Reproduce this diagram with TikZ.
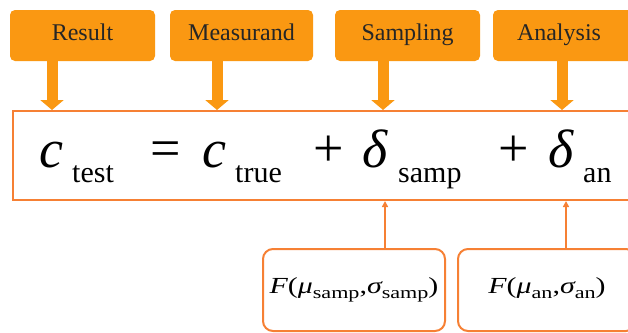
\documentclass[tikz,border=0pt]{standalone}
\usepackage{fontspec}
\setmainfont{Liberation Serif}
\usetikzlibrary{arrows.meta}
\definecolor{tagfill}{RGB}{250,152,18}
\definecolor{frameor}{RGB}{246,128,52}
\newcommand{\lowsub}[1]{\raisebox{-5pt}{\fontsize{17}{17}\selectfont #1}}
\newcommand{\fsize}{\fontsize{23}{23}\selectfont}
\newcommand{\wide}[1]{\scalebox{1.3}[1]{#1}}
\begin{document}
\begin{tikzpicture}[x=1pt,y=-1pt,
  tag/.style={fill=tagfill, rounded corners=5pt, minimum height=51pt, inner sep=0pt,
    text height=16pt, text depth=6pt, font=\fontsize{24}{24}\selectfont, text=black!85},
  big/.style={inner sep=0pt, anchor=base west, font=\fontsize{54}{54}\selectfont},
  small/.style={inner sep=0pt, anchor=base west, font=\fontsize{30}{30}\selectfont},
  fbox/.style={draw=frameor, line width=2pt, rounded corners=10pt, minimum height=82pt,
    inner sep=0pt, text height=6pt, text depth=0pt},
  thick arrow/.style={draw=tagfill, line width=11pt, -{Triangle[width=23pt,length=10pt]}},
  thin arrow/.style={draw=frameor, line width=1.6pt, -{Triangle[width=6pt,length=6pt]}}]
\useasboundingbox (0,0) rectangle (628,332);
\clip (0,0) rectangle (628,332);
% main frame
\node[draw=frameor, line width=2pt, minimum width=660pt, minimum height=89pt,
  anchor=north west, inner sep=0pt] (frame) at (12,110) {};
% top tags
\node[tag, minimum width=145pt] (res) at (82.5,35.5) {Result};
\node[tag, minimum width=143pt] (mea) at (241.5,35.5) {Measurand};
\node[tag, minimum width=145pt] (sam) at (407.5,35.5) {Sampling};
\node[tag, minimum width=145pt] (ana) at (565.5,35.5) {\hspace*{-13pt}Analysis};
% equation
\node[big] (c1) at (39,167) {\itshape c};
\node[small] (s1) at (72,182) {test};
\node[big] (eqs) at (150,166) {=};
\node[big] (c2) at (202,167) {\itshape c};
\node[small] (s2) at (235,182) {true};
\node[big] (p1) at (313,166) {+};
\node[big] (d1) at (362,167) {\itshape δ};
\node[small] (s3) at (398,182) {samp};
\node[big] (p2) at (498,166) {+};
\node[big] (d2) at (548,167) {\itshape δ};
\node[small] (s4) at (583,182) {an};
% arrows from tags
\coordinate (x1) at (52,0);
\coordinate (x2) at (217,0);
\coordinate (x3) at (383,0);
\coordinate (x4) at (562,0);
\draw[thick arrow] (res.south -| x1) -- (x1 |- frame.north);
\draw[thick arrow] (mea.south -| x2) -- (x2 |- frame.north);
\draw[thick arrow] (sam.south -| x3) -- (x3 |- frame.north);
\draw[thick arrow] (ana.south -| x4) -- (x4 |- frame.north);
% bottom boxes
\node[fbox, minimum width=182pt] (bs) at (354,290)
  {\wide{\fsize\itshape F\upshape(\itshape μ\upshape\lowsub{samp},\itshape σ\upshape\lowsub{samp})}};
\node[fbox, minimum width=178pt] (ba) at (547,290)
  {\wide{\fsize\itshape F\upshape(\itshape μ\upshape\lowsub{an},\itshape σ\upshape\lowsub{an})}};
\coordinate (y1) at (385,0);
\coordinate (y2) at (566,0);
\draw[thin arrow] (y1 |- bs.north) -- (y1 |- frame.south);
\draw[thin arrow] (y2 |- ba.north) -- (y2 |- frame.south);
\end{tikzpicture}
\end{document}
